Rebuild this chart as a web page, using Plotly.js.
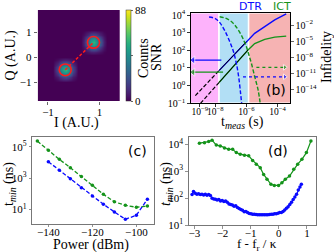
<!DOCTYPE html>
<html><head><meta charset="utf-8">
<script src="https://cdn.plot.ly/plotly-3.0.1.min.js"></script>
<style>html,body{margin:0;padding:0;background:#fff}#chart{width:334px;height:252px}</style>
</head><body><div id="chart"></div>
<script>
// ---------- (a) IQ histogram ----------
const blobI = [-0.33, 0.77];
const blobQ = [-0.5, 0.6];
const blobCounts = [
  [1, 3, 5, 7, 8, 7, 5, 3, 1],
  [3, 6, 11, 17, 19, 17, 11, 6, 3],
  [5, 11, 21, 31, 35, 31, 21, 11, 5],
  [7, 17, 31, 45, 51, 45, 31, 17, 7],
  [8, 19, 35, 51, 58, 51, 35, 19, 8],
  [7, 17, 31, 45, 51, 45, 31, 17, 7],
  [5, 11, 21, 31, 35, 31, 21, 11, 5],
  [3, 6, 11, 17, 19, 17, 11, 6, 3],
  [1, 3, 5, 7, 8, 7, 5, 3, 1]
];
const countRange = [0, 88];
const cbTicks = [0, 44, 88];
const cbTickText = ['0', '', '88'];
const aXTicks = [-1, 1];
const aYTicks = [-1, 0, 1];

// ---------- (b) SNR / infidelity vs t_meas ----------
const bgEdges = [1e-10, 1.74e-8, 1.38e-6, 1e-3];
const bgColors = ['#fdb2fb', '#b2dff5', '#f6b3b3'];
const tDTR = [1.74e-8, 1e-6, 3.4e-6, 1.5e-5, 6.6e-5, 3.6e-4];
const snrDTR = [7.1, 309, 912, 2190, 5250, 11500];
const tICT = [1.74e-8, 1.26e-6, 3.4e-6, 1.5e-5, 6.6e-5, 3.6e-4];
const snrICT = [1.5, 105, 240, 420, 560, 640];
const tFitDTR = [5.2e-10, 1.74e-8, 1e-6];
const snrFitDTR = [0.27, 7.1, 309];
const tFitICT = [1.12e-9, 1.74e-8, 1.26e-6];
const snrFitICT = [0.1, 1.5, 105];
const tInfDTR = [3.98e-9, 1e-8, 2e-8, 3.98e-8, 7.94e-8, 1.41e-7, 2.24e-7, 3.16e-7, 4.17e-7, 5.01e-7];
const infDTR = [0.32, 0.16, 0.025, 1e-3, 1.26e-5, 1.6e-7, 7.9e-10, 2.5e-12, 2.5e-15, 1.6e-17];
const tInfICT = [1.9e-8, 3.98e-8, 6.6e-8, 1.12e-7, 1.78e-7, 2.82e-7, 4.68e-7, 7.08e-7, 1e-6, 1.45e-6, 2.09e-6, 3.39e-6, 5.62e-6, 7.94e-6];
const infICT = [0.35, 0.22, 0.115, 0.04, 0.01, 1.6e-3, 1.35e-4, 1e-5, 8.9e-7, 2.5e-8, 7.1e-10, 2.5e-12, 7.9e-15, 1.26e-17];
const arrowSnrDTR_t = [2.45e-8, 3.7e-10], arrowSnrDTR_v = [28, 28];
const arrowSnrICT_t = [3.16e-8, 3.7e-10], arrowSnrICT_v = [5.8, 5.8];
const arrowInfICT_t = [4.37e-6, 2.9e-4], arrowInfICT_v = [1.3e-10, 1.3e-10];
const arrowInfDTR_t = [6.0e-7, 2.9e-4], arrowInfDTR_v = [2.2e-12, 2.2e-12];
const bXTicks = [1e-9, 1e-8, 1e-6, 1e-4];
const bXText = ['10<sup>−9</sup>', '10<sup>−8</sup>', '10<sup>−6</sup>', '10<sup>−4</sup>'];
const bYTicks = [0.1, 1, 10, 100, 1000, 10000];
const bYText = ['10<sup>−1</sup>', '10<sup>0</sup>', '10<sup>1</sup>', '10<sup>2</sup>', '10<sup>3</sup>', '10<sup>4</sup>'];
const bY2Ticks = [1e-2, 1e-5, 1e-8, 1e-11, 1e-14];
const bY2Text = ['10<sup>−2</sup>', '10<sup>−5</sup>', '10<sup>−8</sup>', '10<sup>−11</sup>', '10<sup>−14</sup>'];

// ---------- (c) t_min vs power ----------
const powerICT = [-145, -140, -135, -130, -125, -120, -115, -110, -105, -100, -95];
const tminICT = [229000, 58900, 15500, 4570, 1230, 339, 91, 30, 18, 13.5, 16];
const powerDTR = [-140, -135, -130, -125, -120, -115, -110, -105, -100, -95];
const tminDTR = [11000, 3090, 912, 240, 71, 21, 6.8, 2.3, 4.2, 44];
const cXTicks = [-140, -120, -100];
const cYTicks = [10, 1000, 100000];
const cYText = ['10<sup>1</sup>', '10<sup>3</sup>', '10<sup>5</sup>'];

// ---------- (d) t_min vs detuning ----------
const detICT = [-2.82, -2.64, -2.49, -2.37, -2.22, -2.08, -1.93, -1.78, -1.64, -1.51, -1.37, -1.22, -1.07, -0.93, -0.80, -0.66, -0.54, -0.42, -0.28, -0.16, -0.01, 0.11, 0.23, 0.38, 0.53, 0.67, 0.82, 0.98, 1.14];
const tminDetICT = [10960, 11480, 12590, 14130, 9330, 8710, 7240, 6460, 6460, 4900, 4270, 3890, 3720, 2510, 1820, 1350, 759, 501, 324, 295, 295, 372, 501, 661, 1175, 1820, 2754, 4900, 13180];
const detDTR = [-3.08, -3.03, -2.97, -2.91, -2.85, -2.79, -2.73, -2.67, -2.61, -2.55, -2.49, -2.43, -2.37, -2.31, -2.25, -2.19, -2.13, -2.07, -2.01, -1.95, -1.89, -1.83, -1.77, -1.71, -1.65, -1.59, -1.53, -1.47, -1.41, -1.35, -1.29, -1.23, -1.17, -1.11, -1.05, -0.99, -0.93, -0.87, -0.81, -0.75, -0.69, -0.63, -0.57, -0.51, -0.45, -0.39, -0.33, -0.27, -0.21, -0.15, -0.09, -0.03, 0.03, 0.09, 0.15, 0.21, 0.27, 0.33, 0.39, 0.45, 0.51, 0.57, 0.63, 0.69, 0.75, 0.80];
const tminDetDTR = [135, 175, 150, 140, 145, 135, 140, 130, 138, 128, 135, 125, 98, 92, 90, 85, 88, 78, 82, 74, 78, 70, 60, 58, 55, 50, 52, 45, 41, 38, 35, 31, 32, 29, 27, 26, 25, 25, 24.5, 24, 24, 24, 24, 24, 24, 24, 24.5, 25, 25, 26, 26, 27.5, 29, 29, 32, 36, 42, 48, 58, 70, 88, 110, 140, 200, 260, 330];
const dXTicks = [-3, -2, -1, 0, 1];
const dYTicks = [10, 100, 1000, 10000];
const dYText = ['10<sup>1</sup>', '10<sup>2</sup>', '10<sup>3</sup>', '10<sup>4</sup>'];

// ---------- build ----------
const BLUE = '#0a0aff', GREEN = '#14931a', RED = '#ff1a1a';
const SERIF = 'Liberation Serif, Times New Roman, serif';
const SANS = 'DejaVu Sans, sans-serif';

const xs = []; for (let i = 0; i < 33; i++) xs.push(+(-1.43 + i * 0.1).toFixed(2));
const ys = []; for (let j = 0; j < 38; j++) ys.push(+(-1.8 + j * 0.1).toFixed(2));
const z = ys.map(() => xs.map(() => 0));
blobI.forEach((bi, k) => {
  const ci = Math.round((bi - xs[0]) / 0.1), cj = Math.round((blobQ[k] - ys[0]) / 0.1);
  for (let r = 0; r < 9; r++) for (let c = 0; c < 9; c++) z[cj - 4 + r][ci - 4 + c] += blobCounts[r][c];
});

const W = 334, H = 252;
const px = v => v / W, py = v => 1 - v / H;

const traces = [
  { type: 'heatmap', x: xs, y: ys, z: z, xaxis: 'x', yaxis: 'y', colorscale: 'Viridis', zmin: countRange[0], zmax: countRange[1], zsmooth: 'best',
    colorbar: { x: px(125.7), xanchor: 'left', y: py(55.5), yanchor: 'middle', len: 91 / H, lenmode: 'fraction', thickness: 4.5, thicknessmode: 'pixels',
      xpad: 0, ypad: 0, outlinewidth: 0.5, outlinecolor: '#333', tickvals: cbTicks, ticktext: cbTickText, ticks: 'outside', ticklen: 2, tickwidth: 0.8,
      tickfont: { family: SERIF, size: 11, color: '#000' } } },
  { x: blobI, y: blobQ, xaxis: 'x', yaxis: 'y', mode: 'lines', line: { color: RED, width: 1.5, dash: '3px,2px' }, hoverinfo: 'skip' },

  { x: tDTR, y: snrDTR, xaxis: 'x2', yaxis: 'y2', mode: 'lines', line: { color: BLUE, width: 1.4 } },
  { x: tICT, y: snrICT, xaxis: 'x2', yaxis: 'y2', mode: 'lines', line: { color: GREEN, width: 1.4 } },
  { x: tFitDTR.slice(0, 2), y: snrFitDTR.slice(0, 2), xaxis: 'x2', yaxis: 'y2', mode: 'lines', line: { color: '#000', width: 1.2, dash: '4px,2px' } },
  { x: tFitDTR.slice(1), y: snrFitDTR.slice(1), xaxis: 'x2', yaxis: 'y2', mode: 'lines', line: { color: '#000', width: 1.0 } },
  { x: tFitICT.slice(0, 2), y: snrFitICT.slice(0, 2), xaxis: 'x2', yaxis: 'y2', mode: 'lines', line: { color: '#000', width: 1.2, dash: '4px,2px' } },
  { x: tFitICT.slice(1), y: snrFitICT.slice(1), xaxis: 'x2', yaxis: 'y2', mode: 'lines', line: { color: '#000', width: 1.0 } },
  { x: tInfDTR, y: infDTR, xaxis: 'x2', yaxis: 'y3', mode: 'lines', line: { color: BLUE, width: 1.4, dash: '4px,2px', shape: 'spline' } },
  { x: tInfICT, y: infICT, xaxis: 'x2', yaxis: 'y3', mode: 'lines', line: { color: GREEN, width: 1.4, dash: '4px,2px', shape: 'spline' } },
  { x: arrowSnrDTR_t, y: arrowSnrDTR_v, xaxis: 'x2', yaxis: 'y2', mode: 'lines+markers', line: { color: BLUE, width: 1.3 }, marker: { symbol: 'triangle-left', size: [0, 7], color: BLUE } },
  { x: arrowSnrICT_t, y: arrowSnrICT_v, xaxis: 'x2', yaxis: 'y2', mode: 'lines+markers', line: { color: GREEN, width: 1.3 }, marker: { symbol: 'triangle-left', size: [0, 7], color: GREEN } },
  { x: arrowInfICT_t, y: arrowInfICT_v, xaxis: 'x2', yaxis: 'y3', mode: 'lines+markers', line: { color: GREEN, width: 1.2, dash: 'dot' }, marker: { symbol: 'triangle-right', size: [0, 5], color: GREEN } },
  { x: arrowInfDTR_t, y: arrowInfDTR_v, xaxis: 'x2', yaxis: 'y3', mode: 'lines+markers', line: { color: BLUE, width: 1.2, dash: 'dot' }, marker: { symbol: 'triangle-right', size: [0, 5], color: BLUE } },

  { x: powerICT, y: tminICT, xaxis: 'x3', yaxis: 'y4', mode: 'lines+markers', line: { color: GREEN, width: 1.3, dash: '4px,2px' }, marker: { color: GREEN, size: 3.5 } },
  { x: powerDTR, y: tminDTR, xaxis: 'x3', yaxis: 'y4', mode: 'lines+markers', line: { color: BLUE, width: 1.3, dash: '4px,2px' }, marker: { color: BLUE, size: 3.5 } },

  { x: detICT, y: tminDetICT, xaxis: 'x4', yaxis: 'y5', mode: 'lines+markers', line: { color: GREEN, width: 1.2 }, marker: { color: GREEN, size: 3.5 } },
  { x: detDTR, y: tminDetDTR, xaxis: 'x4', yaxis: 'y5', mode: 'lines+markers', line: { color: BLUE, width: 1.2 }, marker: { color: BLUE, size: 3.5 } }
];

const tickF = s => ({ family: SERIF, size: s, color: '#000' });
const frame = (c) => ({ showline: true, mirror: true, linecolor: c, linewidth: 1, showgrid: false, zeroline: false, ticks: 'outside', ticklen: 2.5, tickwidth: 0.8, tickcolor: c, tickangle: 0 });

const shapes = [];
bgColors.forEach((c, i) => shapes.push({ type: 'rect', xref: 'x2', yref: 'y2 domain', x0: bgEdges[i], x1: bgEdges[i + 1], y0: 0, y1: 1, fillcolor: c, line: { color: '#fff', width: 1.5 }, layer: 'below' }));
const circleR = 0.235;
blobI.forEach((bi, k) => shapes.push({ type: 'circle', xref: 'x', yref: 'y', x0: bi - circleR, x1: bi + circleR, y0: blobQ[k] - circleR, y1: blobQ[k] + circleR, line: { color: RED, width: 1.6 } }));

const ann = (t, x, y, o = {}) => Object.assign({ text: t, xref: 'paper', yref: 'paper', x: px(x), y: py(y), xanchor: 'center', yanchor: 'middle', showarrow: false, font: { family: SERIF, size: 14, color: '#000' } }, o);

const layout = {
  width: W, height: H, margin: { l: 0, r: 0, t: 0, b: 0 }, showlegend: false,
  paper_bgcolor: '#fff', plot_bgcolor: '#fff', font: { family: SERIF, size: 11, color: '#000' },
  xaxis: { domain: [px(37.7), px(120)], range: [-1.4, 1.8], tickvals: aXTicks, ticks: 'outside', ticklen: 3, tickwidth: 0.8, showgrid: false, zeroline: false, showline: false, tickfont: tickF(11), tickangle: 0, ticklabelstandoff: -2, anchor: 'y' },
  yaxis: { domain: [py(101), py(10)], range: [-1.75, 1.9], tickvals: aYTicks, ticks: 'outside', ticklen: 3, tickwidth: 0.8, showgrid: false, zeroline: false, showline: false, tickfont: tickF(11), tickangle: 0, anchor: 'x' },
  xaxis2: Object.assign(frame('#000'), { domain: [px(190.7), px(290)], type: 'log', range: [-9.58, -3.2], tickvals: bXTicks, ticktext: bXText, tickfont: tickF(9.5), ticklabelstandoff: -3, anchor: 'y2' }),
  yaxis2: Object.assign(frame('#000'), { domain: [py(103.3), py(12.7)], type: 'log', range: [-1, 4.13], tickvals: bYTicks, ticktext: bYText, tickfont: tickF(10), anchor: 'x2', mirror: false }),
  yaxis3: { domain: [py(103.3), py(12.7)], type: 'log', range: [-16.6, 0.3], overlaying: 'y2', side: 'right', anchor: 'x2', tickvals: bY2Ticks, ticktext: bY2Text, tickfont: tickF(10), ticks: 'outside', ticklen: 2.5, tickwidth: 0.8, tickangle: 0, showgrid: false, zeroline: false, showline: true, linecolor: '#000' },
  xaxis3: Object.assign(frame('#777'), { domain: [px(32.3), px(154)], range: [-147.3, -92], tickvals: cXTicks, tickfont: tickF(11), ticklabelstandoff: -4, anchor: 'y4' }),
  yaxis4: Object.assign(frame('#777'), { domain: [py(223.7), py(137)], type: 'log', range: [0.08, 5.62], tickvals: cYTicks, ticktext: cYText, tickfont: tickF(11), anchor: 'x3' }),
  xaxis4: Object.assign(frame('#777'), { domain: [px(188.7), px(316)], range: [-3.2, 1.32], tickvals: dXTicks, tickfont: tickF(11), ticklabelstandoff: -5, anchor: 'y5' }),
  yaxis5: Object.assign(frame('#777'), { domain: [py(225), py(137)], type: 'log', range: [1, 4.27], tickvals: dYTicks, ticktext: dYText, tickfont: tickF(11), anchor: 'x4' }),
  shapes: shapes,
  annotations: [
    ann('Q (A.U.)', 10, 55.5, { textangle: -90 }),
    ann('I (A.U.)', 76, 123),
    ann('Counts', 144, 58, { textangle: -90 }),
    ann('SNR', 157, 57, { textangle: -90 }),
    ann('Infidelity', 327, 57, { textangle: -90 }),
    ann('t<sub><i>meas</i></sub> (s)', 242, 122),
    ann('DTR', 250, 6.5, { font: { family: SANS, size: 11, color: BLUE } }),
    ann('ICT', 282, 6.5, { font: { family: SANS, size: 11, color: GREEN } }),
    ann('(b)', 276, 90, { font: { family: SANS, size: 14, color: '#000' } }),
    ann('(c)', 137, 151, { font: { family: SANS, size: 14, color: '#000' } }),
    ann('(d)', 278, 151, { font: { family: SANS, size: 14, color: '#000' } }),
    ann('t<sub><i>min</i></sub> (ns)', 9, 184, { textangle: -90 }),
    ann('<i>t<sub>min</sub></i> (ns)', 166, 184, { textangle: -90 }),
    ann('Power (dBm)', 91, 245),
    ann('f - f<sub>r</sub> / κ', 257, 244.5, { font: { family: SERIF, size: 13, color: '#000' } })
  ]
};

Plotly.newPlot('chart', traces, layout, { staticPlot: true, displayModeBar: false });
</script></body></html>
